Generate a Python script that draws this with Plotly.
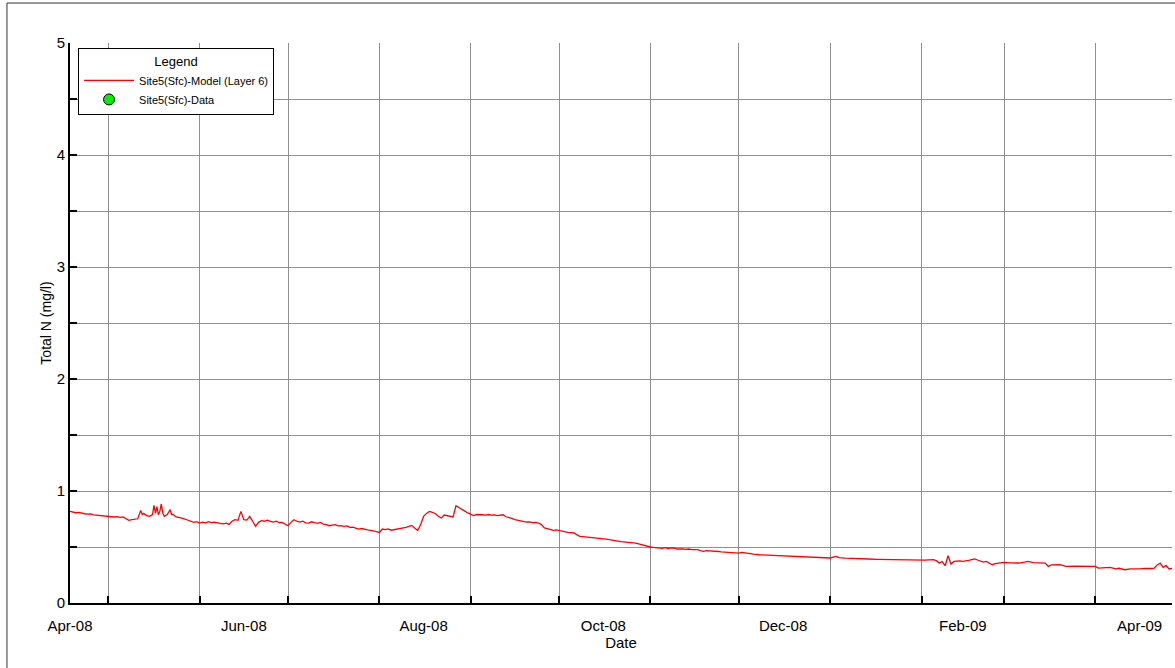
import plotly.graph_objects as go

# ---- data ----
model_dates = [
    "2008-04-18", "2008-04-19", "2008-04-20", "2008-04-21", "2008-04-22", "2008-04-23", "2008-04-24",
    "2008-04-25", "2008-04-26", "2008-04-27", "2008-04-28", "2008-04-29", "2008-04-30", "2008-05-01",
    "2008-05-02", "2008-05-03", "2008-05-04", "2008-05-05", "2008-05-06", "2008-05-07", "2008-05-08",
    "2008-05-09", "2008-05-10", "2008-05-11", "2008-05-12", "2008-05-12 12:00", "2008-05-13", "2008-05-14",
    "2008-05-15", "2008-05-16", "2008-05-16 12:00", "2008-05-17", "2008-05-17 12:00", "2008-05-18",
    "2008-05-18 12:00", "2008-05-19", "2008-05-19 12:00", "2008-05-20", "2008-05-21", "2008-05-22",
    "2008-05-22 12:00", "2008-05-23", "2008-05-24", "2008-05-25", "2008-05-26", "2008-05-27", "2008-05-28",
    "2008-05-29", "2008-05-30", "2008-05-31", "2008-06-01", "2008-06-02", "2008-06-03", "2008-06-04",
    "2008-06-05", "2008-06-06", "2008-06-07", "2008-06-08", "2008-06-09", "2008-06-10", "2008-06-11",
    "2008-06-12", "2008-06-13", "2008-06-14", "2008-06-15", "2008-06-15 12:00", "2008-06-16", "2008-06-17",
    "2008-06-18", "2008-06-19", "2008-06-20", "2008-06-21", "2008-06-22", "2008-06-23", "2008-06-24",
    "2008-06-25", "2008-06-26", "2008-06-27", "2008-06-28", "2008-06-29", "2008-06-30", "2008-07-01",
    "2008-07-02", "2008-07-03", "2008-07-04", "2008-07-05", "2008-07-06", "2008-07-07", "2008-07-08",
    "2008-07-09", "2008-07-10", "2008-07-11", "2008-07-12", "2008-07-13", "2008-07-14", "2008-07-15",
    "2008-07-16", "2008-07-17", "2008-07-18", "2008-07-19", "2008-07-20", "2008-07-21", "2008-07-22",
    "2008-07-23", "2008-07-24", "2008-07-25", "2008-07-26", "2008-07-27", "2008-07-28", "2008-07-29",
    "2008-07-30", "2008-07-31", "2008-08-01", "2008-08-02", "2008-08-03", "2008-08-04", "2008-08-05",
    "2008-08-06", "2008-08-07", "2008-08-08", "2008-08-09", "2008-08-10", "2008-08-11", "2008-08-12",
    "2008-08-13", "2008-08-14", "2008-08-15", "2008-08-16", "2008-08-17", "2008-08-18", "2008-08-19",
    "2008-08-20", "2008-08-21", "2008-08-22", "2008-08-23", "2008-08-24", "2008-08-25", "2008-08-26",
    "2008-08-27", "2008-08-28", "2008-08-29", "2008-08-30", "2008-08-31", "2008-09-01", "2008-09-02",
    "2008-09-03", "2008-09-04", "2008-09-05", "2008-09-06", "2008-09-07", "2008-09-08", "2008-09-09",
    "2008-09-10", "2008-09-11", "2008-09-12", "2008-09-13", "2008-09-14", "2008-09-15", "2008-09-16",
    "2008-09-17", "2008-09-18", "2008-09-19", "2008-09-20", "2008-09-21", "2008-09-22", "2008-09-23",
    "2008-09-24", "2008-09-25", "2008-09-26", "2008-09-27", "2008-09-28", "2008-09-29", "2008-09-30",
    "2008-10-01", "2008-10-02", "2008-10-03", "2008-10-04", "2008-10-05", "2008-10-06", "2008-10-07",
    "2008-10-08", "2008-10-09", "2008-10-10", "2008-10-11", "2008-10-12", "2008-10-13", "2008-10-14",
    "2008-10-15", "2008-10-16", "2008-10-17", "2008-10-18", "2008-10-19", "2008-10-20", "2008-10-21",
    "2008-10-22", "2008-10-23", "2008-10-24", "2008-10-25", "2008-10-26", "2008-10-27", "2008-10-28",
    "2008-10-29", "2008-10-30", "2008-10-31", "2008-11-01", "2008-11-02", "2008-11-03", "2008-11-04",
    "2008-11-05", "2008-11-06", "2008-11-07", "2008-11-08", "2008-11-09", "2008-11-10", "2008-11-11",
    "2008-11-12", "2008-11-13", "2008-11-14", "2008-11-15", "2008-11-16", "2008-11-17", "2008-11-18",
    "2008-11-19", "2008-11-20", "2008-11-21", "2008-11-22", "2008-11-23", "2008-11-24", "2008-11-25",
    "2008-11-26", "2008-11-27", "2008-11-28", "2008-11-29", "2008-11-30", "2008-12-01", "2008-12-02",
    "2008-12-04", "2008-12-06", "2008-12-08", "2008-12-11", "2008-12-14", "2008-12-17", "2008-12-21",
    "2008-12-24", "2008-12-28", "2009-01-01", "2009-01-03", "2009-01-04", "2009-01-06", "2009-01-09",
    "2009-01-12", "2009-01-14", "2009-01-17", "2009-01-21", "2009-01-24", "2009-01-27", "2009-01-31",
    "2009-02-02", "2009-02-05", "2009-02-06", "2009-02-07", "2009-02-08", "2009-02-09", "2009-02-10",
    "2009-02-11", "2009-02-12", "2009-02-14", "2009-02-15", "2009-02-17", "2009-02-19", "2009-02-20",
    "2009-02-22", "2009-02-23", "2009-02-25", "2009-02-26", "2009-02-27", "2009-03-01", "2009-03-03",
    "2009-03-06", "2009-03-08", "2009-03-09", "2009-03-11", "2009-03-13", "2009-03-15", "2009-03-16",
    "2009-03-17", "2009-03-20", "2009-03-22", "2009-03-25", "2009-03-28", "2009-04-01", "2009-04-02",
    "2009-04-04", "2009-04-06", "2009-04-08", "2009-04-09", "2009-04-11", "2009-04-13", "2009-04-16",
    "2009-04-18", "2009-04-20", "2009-04-21", "2009-04-22", "2009-04-23", "2009-04-24", "2009-04-25",
    "2009-04-26", "2009-04-27",
]
model_vals = [
    0.818, 0.812, 0.806, 0.809, 0.800, 0.797, 0.793,
    0.795, 0.787, 0.784, 0.780, 0.776, 0.779, 0.773,
    0.770, 0.768, 0.771, 0.764, 0.768, 0.752, 0.738,
    0.745, 0.748, 0.752, 0.827, 0.790, 0.800, 0.780,
    0.773, 0.790, 0.871, 0.800, 0.860, 0.788,
    0.820, 0.884, 0.800, 0.773, 0.790, 0.833,
    0.790, 0.790, 0.768, 0.765, 0.757, 0.750, 0.741,
    0.735, 0.720, 0.726, 0.714, 0.722, 0.716, 0.726,
    0.718, 0.722, 0.714, 0.710, 0.707, 0.713, 0.702,
    0.730, 0.744, 0.738, 0.818, 0.770, 0.744, 0.740,
    0.773, 0.730, 0.684, 0.720, 0.735, 0.730, 0.740,
    0.728, 0.723, 0.730, 0.718, 0.720, 0.705, 0.690,
    0.720, 0.744, 0.730, 0.723, 0.730, 0.716, 0.714,
    0.725, 0.718, 0.712, 0.720, 0.705, 0.700, 0.690,
    0.695, 0.700, 0.688, 0.690, 0.684, 0.688, 0.675,
    0.678, 0.668, 0.660, 0.665, 0.655, 0.652, 0.648,
    0.645, 0.638, 0.630, 0.660, 0.655, 0.662, 0.650,
    0.654, 0.660, 0.665, 0.670, 0.675, 0.685, 0.693,
    0.670, 0.648, 0.700, 0.773, 0.800, 0.818, 0.810,
    0.797, 0.775, 0.759, 0.785, 0.780, 0.770, 0.768,
    0.869, 0.850, 0.839, 0.820, 0.804, 0.795, 0.780,
    0.790, 0.792, 0.788, 0.785, 0.790, 0.784, 0.786,
    0.780, 0.785, 0.788, 0.770, 0.759, 0.755, 0.745,
    0.738, 0.735, 0.728, 0.723, 0.725, 0.718, 0.720,
    0.714, 0.700, 0.670, 0.665, 0.655, 0.648, 0.652,
    0.645, 0.640, 0.636, 0.630, 0.628, 0.625, 0.610,
    0.595, 0.592, 0.590, 0.586, 0.582, 0.580, 0.578,
    0.576, 0.574, 0.570, 0.565, 0.559, 0.556, 0.552,
    0.548, 0.545, 0.544, 0.542, 0.541, 0.535, 0.528,
    0.520, 0.512, 0.505, 0.500, 0.496, 0.494, 0.491,
    0.488, 0.494, 0.487, 0.492, 0.491, 0.482, 0.486,
    0.484, 0.478, 0.482, 0.476, 0.479, 0.476, 0.468,
    0.461, 0.468, 0.466, 0.470, 0.464, 0.460, 0.456,
    0.454, 0.452, 0.449, 0.447, 0.448, 0.446, 0.452,
    0.442, 0.436, 0.431, 0.428, 0.425, 0.421, 0.416,
    0.412, 0.407, 0.402, 0.416, 0.405, 0.401, 0.396,
    0.395, 0.393, 0.390, 0.388, 0.386, 0.383, 0.380,
    0.382, 0.387, 0.378, 0.357, 0.370, 0.333, 0.422,
    0.348, 0.371, 0.376, 0.372, 0.380, 0.393, 0.384,
    0.366, 0.372, 0.342, 0.352, 0.357, 0.362, 0.358,
    0.357, 0.365, 0.371, 0.360, 0.358, 0.357, 0.327,
    0.340, 0.342, 0.327, 0.330, 0.328, 0.327, 0.312,
    0.318, 0.318, 0.305, 0.310, 0.297, 0.305, 0.304,
    0.310, 0.308, 0.312, 0.340, 0.357, 0.318, 0.335,
    0.304, 0.310,
]
obs_dates = []   # no observed data points appear in the plotted period
obs_vals = []

x_label_dates = ["2008-04-18", "2008-06-16", "2008-08-16", "2008-10-16",
                 "2008-12-16", "2009-02-15", "2009-04-16"]
x_label_text = ["Apr-08", "Jun-08", "Aug-08", "Oct-08", "Dec-08", "Feb-09", "Apr-09"]
x_grid_dates = ["2008-05-01", "2008-06-01", "2008-07-01", "2008-08-01", "2008-09-01",
                "2008-10-01", "2008-11-01", "2008-12-01", "2009-01-01", "2009-02-01",
                "2009-03-01", "2009-04-01"]
y_tick_vals = [0, 0.5, 1, 1.5, 2, 2.5, 3, 3.5, 4, 4.5, 5]
y_tick_text = ["0", "", "1", "", "2", "", "3", "", "4", "", "5"]
x_range = ["2008-04-18", "2009-04-27"]

FONT = "Liberation Sans, Arial, sans-serif"

fig = go.Figure()
fig.add_trace(go.Scatter(
    x=model_dates, y=model_vals, mode="lines",
    name="Site5(Sfc)-Model (Layer 6)",
    line=dict(color="#ff0000", width=1.3),
))
fig.add_trace(go.Scatter(
    x=obs_dates if obs_dates else [None], y=obs_vals if obs_vals else [None],
    mode="markers", name="Site5(Sfc)-Data",
    marker=dict(color="#00ee00", size=11, line=dict(color="black", width=1)),
))

fig.update_layout(
    width=1175, height=668,
    margin=dict(l=70, r=3, t=43, b=65),
    paper_bgcolor="white", plot_bgcolor="white",
    font=dict(family=FONT, size=14, color="black"),
    showlegend=True,
    legend=dict(
        x=0.0073, y=0.991, xanchor="left", yanchor="top",
        bgcolor="white", bordercolor="black", borderwidth=1,
        font=dict(size=11, family=FONT),
        itemwidth=50,
        title=dict(text="Legend", side="top center", font=dict(size=13, family=FONT)),
        tracegroupgap=0,
    ),
    xaxis=dict(
        type="date", range=x_range,
        tickvals=x_label_dates, ticktext=x_label_text,
        ticks="outside", ticklen=8, tickcolor="rgba(0,0,0,0)",
        showgrid=False, zeroline=False,
        showline=True, linecolor="black", linewidth=2,
        tickfont=dict(size=15),
        minor=dict(tickvals=x_grid_dates, showgrid=True, gridcolor="#8f8f8f", gridwidth=1,
                   ticks="inside", ticklen=7, tickcolor="black", tickwidth=1.5),
        title=dict(text="Date", standoff=3, font=dict(size=15)),
        automargin=False,
    ),
    yaxis=dict(
        range=[0, 5], tickvals=y_tick_vals, ticktext=y_tick_text,
        ticks="inside", ticklen=7, tickcolor="black", tickwidth=1.5,
        showgrid=True, gridcolor="#8f8f8f", gridwidth=1, zeroline=False,
        showline=True, linecolor="black", linewidth=2,
        tickfont=dict(size=15),
        title=dict(text="Total N (mg/l)", standoff=2, font=dict(size=14)),
        automargin=False,
    ),
    shapes=[
        dict(type="rect", xref="paper", yref="paper",
             x0=-0.0572, x1=1.2, y0=-0.3, y1=1.0714,
             line=dict(color="#333333", width=1), fillcolor="rgba(0,0,0,0)", layer="below"),
    ],
)

fig.write_html("out.html", config={"displayModeBar": False},
               post_script="document.body.style.margin='0';")
